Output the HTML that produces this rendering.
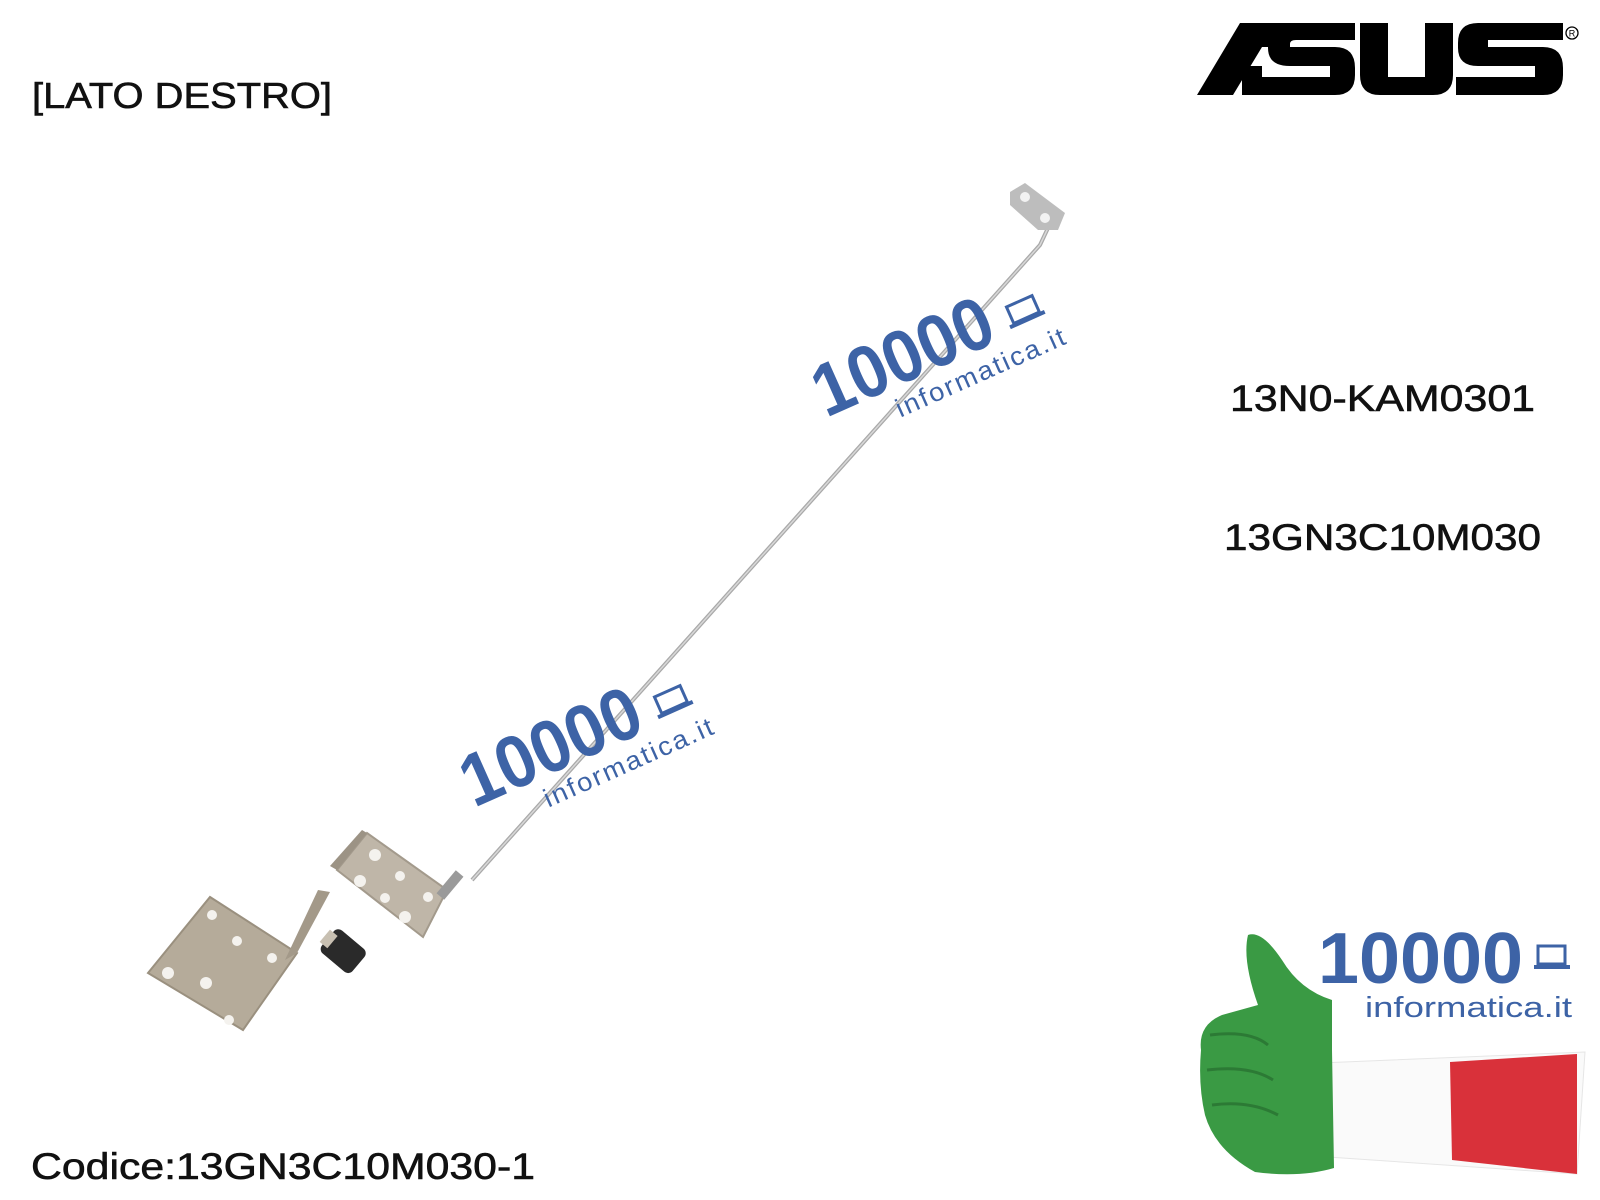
<!DOCTYPE html>
<html><head><meta charset="utf-8"><style>
html,body{margin:0;padding:0;background:#fff;}
svg{display:block}
</style></head><body>
<svg width="1600" height="1200" viewBox="0 0 1600 1200" xmlns="http://www.w3.org/2000/svg">
<g font-family="Liberation Sans, sans-serif" fill="#111" stroke="#111" stroke-width="0.6">
<text x="32" y="108" font-size="36" textLength="300" lengthAdjust="spacingAndGlyphs">[LATO DESTRO]</text>
<text x="1230" y="411" font-size="37" textLength="305" lengthAdjust="spacingAndGlyphs">13N0-KAM0301</text>
<text x="1224" y="550" font-size="37" textLength="317" lengthAdjust="spacingAndGlyphs">13GN3C10M030</text>
<text x="31" y="1179" font-size="37" textLength="504" lengthAdjust="spacingAndGlyphs">Codice:13GN3C10M030-1</text>
</g>
<g fill="#000">
<polygon points="1197,95 1240,23 1290,23 1288,47 1262,47 1233,95"/>
<polygon points="1242,66 1262,66 1262,95 1242,95"/>
<path d="M1268,23 H1355 V40 H1296 Q1290,40 1290,44 V47 H1335 Q1355,47 1355,68 V75 Q1355,95 1335,95 H1262 V77 H1330 V66 H1290 Q1268,66 1268,48 Z"/>
<path d="M1360,23 H1388 V77 H1425 V23 H1453 V75 Q1453,95 1433,95 H1380 Q1360,95 1360,75 Z"/>
<path d="M1478,23 H1563 V40 H1488 V47 H1543 Q1563,47 1563,68 V75 Q1563,95 1543,95 H1456 V77 H1535 V66 H1478 Q1458,66 1458,48 V43 Q1458,23 1478,23 Z"/>
<circle cx="1572" cy="33" r="6" fill="none" stroke="#000" stroke-width="1.3"/>
<text x="1572" y="36.5" font-size="9" text-anchor="middle" font-family="Liberation Sans, sans-serif">R</text>
</g>
<path d="M1048,228 L1040,245 L472,880" stroke="#a9a9a9" stroke-width="4" fill="none"/>
<path d="M1048,228 L1040,245 L472,880" stroke="#d8d8d8" stroke-width="1.5" fill="none"/>
<polygon points="1010,192 1025,183 1065,213 1058,230 1038,230 1010,205" fill="#bdbdbd"/>
<circle cx="1025" cy="197" r="5" fill="#f2f2f2"/>
<circle cx="1045" cy="218" r="5" fill="#f2f2f2"/>
<polygon points="337,870 367,833 447,890 423,937" fill="#bfb6a8" stroke="#a39a8c" stroke-width="2"/>
<polygon points="337,870 367,833 362,830 330,866" fill="#9c9385"/>
<g fill="#f4f2ee"><circle cx="375" cy="855" r="6"/><circle cx="360" cy="881" r="6"/><circle cx="400" cy="876" r="5"/><circle cx="385" cy="898" r="5"/><circle cx="428" cy="897" r="5"/><circle cx="405" cy="917" r="6"/></g>
<rect x="445" y="870" width="10" height="30" fill="#9a9a9a" transform="rotate(40 450 885)"/>
<polygon points="148,973 210,897 297,953 243,1030" fill="#b5ab9a" stroke="#9a907f" stroke-width="2"/>
<polygon points="297,953 285,960 318,890 330,892" fill="#a39989"/>
<g fill="#f4f2ee"><circle cx="212" cy="915" r="5"/><circle cx="237" cy="941" r="5"/><circle cx="272" cy="958" r="5"/><circle cx="168" cy="973" r="6"/><circle cx="206" cy="983" r="6"/><circle cx="229" cy="1020" r="5"/></g>
<g transform="rotate(40 340 955)"><rect x="320" y="935" width="40" height="30" rx="6" fill="#2a2a2a"/><rect x="316" y="942" width="10" height="16" fill="#c8c0b2"/></g>
<g fill="#3d63a6" font-family="Liberation Sans, sans-serif">
<g transform="translate(826,418) rotate(-24)">
<text x="0" y="0" font-size="74" font-weight="bold" textLength="190" lengthAdjust="spacingAndGlyphs">10000</text>
<rect x="210" y="-28" width="28" height="18" fill="none" stroke="#3d63a6" stroke-width="3"/><rect x="205" y="-10" width="38" height="4"/>
<text x="68" y="30" font-size="26" textLength="185" lengthAdjust="spacingAndGlyphs" letter-spacing="2">informatica.it</text>
</g>
<g transform="translate(474,808) rotate(-24)">
<text x="0" y="0" font-size="74" font-weight="bold" textLength="190" lengthAdjust="spacingAndGlyphs">10000</text>
<rect x="210" y="-28" width="28" height="18" fill="none" stroke="#3d63a6" stroke-width="3"/><rect x="205" y="-10" width="38" height="4"/>
<text x="68" y="30" font-size="26" textLength="185" lengthAdjust="spacingAndGlyphs" letter-spacing="2">informatica.it</text>
</g>
</g>
<g>
<path d="M1320,1063 L1585,1052 L1577,1174 L1328,1157 Z" fill="#fafafa" stroke="#e6e6e6"/>
<path d="M1450,1062 L1577,1054 L1577,1174 L1452,1160 Z" fill="#d9313a"/>
<path d="M1332,1050 L1332,1000 Q1300,990 1282,960 Q1262,930 1248,935 Q1242,960 1258,1005 L1222,1015 Q1198,1025 1201,1050 Q1198,1085 1205,1115 Q1215,1150 1255,1172 Q1300,1178 1334,1168 Z" fill="#3a9a44"/>
<path d="M1210,1035 Q1250,1030 1268,1045 M1207,1070 Q1250,1065 1273,1080 M1212,1105 Q1250,1100 1278,1115" stroke="#2c7a35" stroke-width="3" fill="none"/>
<text x="1318" y="983" font-family="Liberation Sans, sans-serif" font-size="72" font-weight="bold" fill="#3d63a6" textLength="205" lengthAdjust="spacingAndGlyphs">10000</text>
<rect x="1538" y="946" width="27" height="18" fill="none" stroke="#3d63a6" stroke-width="3"/><rect x="1534" y="965" width="36" height="4" fill="#3d63a6"/>
<text x="1365" y="1017" font-family="Liberation Sans, sans-serif" font-size="29" fill="#3d63a6" textLength="207" lengthAdjust="spacingAndGlyphs">informatica.it</text>
</g>
</svg>
</body></html>
